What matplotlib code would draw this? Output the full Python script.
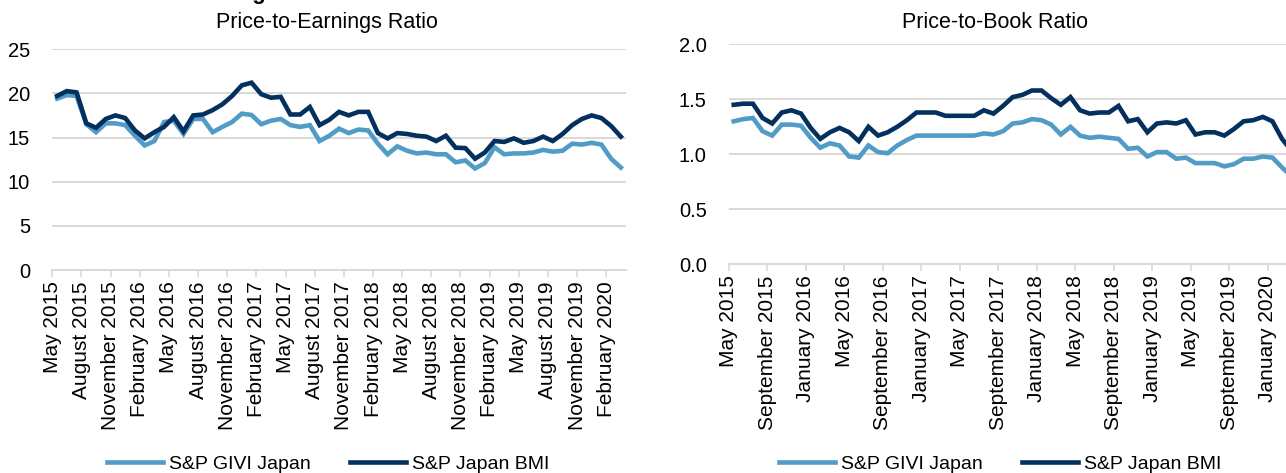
import matplotlib
matplotlib.use("Agg")
import matplotlib.pyplot as plt

plt.rcParams["font.family"] = ["Liberation Sans", "DejaVu Sans"]

NAVY = "#04305e"
LIGHT = "#519cc6"
GRID = "#d9d9d9"

# monthly, May 2015 .. March 2020
months = ["January", "February", "March", "April", "May", "June", "July",
          "August", "September", "October", "November", "December"]
dates = [f"{months[(4 + i) % 12]} {2015 + (4 + i) // 12}" for i in range(59)]

pe_givi = [19.4, 19.8, 19.7, 16.5, 15.6, 16.6, 16.6, 16.4, 15.2, 14.1,
           14.6, 16.75, 16.9, 15.4, 17.1, 17.1, 15.6, 16.2, 16.75, 17.7,
           17.55, 16.5, 16.9, 17.1, 16.4, 16.2, 16.4, 14.6, 15.2, 16.0,
           15.5, 15.9, 15.8, 14.3, 13.1, 14.0, 13.5, 13.2, 13.3, 13.1,
           13.1, 12.2, 12.4, 11.5, 12.1, 13.9, 13.1, 13.2, 13.2, 13.3,
           13.6, 13.4, 13.5, 14.3, 14.2, 14.4, 14.2, 12.6, 11.6]
pe_bmi = [19.7, 20.25, 20.1, 16.6, 16.1, 17.1, 17.5, 17.2, 15.8, 14.9,
          15.6, 16.2, 17.3, 15.7, 17.5, 17.6, 18.1, 18.75, 19.7, 20.9,
          21.2, 19.9, 19.5, 19.6, 17.6, 17.6, 18.45, 16.4, 17.0, 17.9,
          17.5, 17.9, 17.9, 15.5, 14.9, 15.5, 15.4, 15.2, 15.1, 14.6,
          15.2, 13.85, 13.8, 12.6, 13.3, 14.6, 14.5, 14.9, 14.4, 14.6,
          15.1, 14.6, 15.4, 16.4, 17.1, 17.5, 17.2, 16.3, 15.1]

pb_givi = [1.30, 1.32, 1.33, 1.21, 1.17, 1.27, 1.27, 1.26, 1.15, 1.06,
           1.10, 1.08, 0.98, 0.97, 1.08, 1.02, 1.01, 1.08, 1.13, 1.17,
           1.17, 1.17, 1.17, 1.17, 1.17, 1.17, 1.19, 1.18, 1.21, 1.28,
           1.29, 1.32, 1.31, 1.27, 1.18, 1.25, 1.17, 1.15, 1.16, 1.15,
           1.14, 1.05, 1.06, 0.98, 1.02, 1.02, 0.96, 0.97, 0.92, 0.92,
           0.92, 0.89, 0.91, 0.96, 0.96, 0.98, 0.97, 0.88, 0.80]
pb_bmi = [1.45, 1.46, 1.46, 1.33, 1.28, 1.38, 1.40, 1.37, 1.24, 1.14,
          1.20, 1.24, 1.20, 1.12, 1.25, 1.17, 1.20, 1.25, 1.31, 1.38,
          1.38, 1.38, 1.35, 1.35, 1.35, 1.35, 1.40, 1.37, 1.44, 1.52,
          1.54, 1.58, 1.58, 1.51, 1.45, 1.52, 1.40, 1.37, 1.38, 1.38,
          1.44, 1.30, 1.32, 1.20, 1.28, 1.29, 1.28, 1.31, 1.18, 1.20,
          1.20, 1.17, 1.23, 1.30, 1.31, 1.34, 1.30, 1.14, 1.03]

series_names = ["S&P GIVI Japan", "S&P Japan BMI"]

W, H = 1286, 473


def px_rect(x0, y_top, x1, y_bottom):
    return [x0 / W, 1 - y_bottom / H, (x1 - x0) / W, (y_bottom - y_top) / H]


def draw_panel(ax, givi, bmi, step, yticks, fmt):
    x = list(range(len(dates)))
    ax.plot(x, givi, color=LIGHT, lw=3.3, solid_joinstyle="miter",
            label=series_names[0], zorder=3)
    ax.plot(x, bmi, color=NAVY, lw=3.3, solid_joinstyle="miter",
            label=series_names[1], zorder=4)

    ax.set_xlim(-0.5, len(dates) - 0.5)
    ax.set_ylim(yticks[0], yticks[-1])
    ax.set_yticks(yticks)
    ax.set_yticklabels([fmt.format(v) for v in yticks])

    pos = [i - 0.5 for i in range(0, len(dates), step)]
    ax.set_xticks(pos)
    ax.set_xticklabels([dates[i] for i in range(0, len(dates), step)],
                       rotation=90, va="top", ha="center")

    ax.grid(axis="y", color=GRID, lw=1.4, zorder=0)
    for s in ["top", "right", "left"]:
        ax.spines[s].set_visible(False)
    ax.spines["bottom"].set_color(GRID)
    ax.spines["bottom"].set_linewidth(1.4)
    ax.tick_params(axis="x", length=5, width=1.2, color=GRID, pad=3,
                   labelsize=15, labelcolor="black")
    ax.tick_params(axis="y", length=0, pad=16, labelsize=14.5,
                   labelcolor="black")


fig = plt.figure(figsize=(W / 100, H / 100), dpi=100)

ax1 = fig.add_axes(px_rect(52.3, 49.1, 625.7, 270.1))
draw_panel(ax1, pe_givi, pe_bmi, 3, [0, 5, 10, 15, 20, 25], "{:g}")

# right panel runs past the edge of the picture, as in the source
ax2 = fig.add_axes(px_rect(728.9, 44.3, 1296.5, 264.3))
draw_panel(ax2, pb_givi, pb_bmi, 4, [0.0, 0.5, 1.0, 1.5, 2.0], "{:.1f}")

fig.text(327 / W, 1 - 28 / H, "Price-to-Earnings Ratio", ha="center",
         va="baseline", fontsize=15.5)
fig.text(995 / W, 1 - 28 / H, "Price-to-Book Ratio", ha="center",
         va="baseline", fontsize=15.5)

# cut-off heading above the left chart
fig.text(266 / W, 1 + 1.5 / H, "Trailing", ha="right", va="baseline",
         fontsize=16, fontweight="bold")

for ax, cx in [(ax1, 328), (ax2, 1000)]:
    handles, labels = ax.get_legend_handles_labels()
    fig.legend(handles, labels, loc="center", ncol=2,
               bbox_to_anchor=(cx / W, 1 - 464 / H), frameon=False,
               fontsize=14, handlelength=2.9, handletextpad=0.3,
               columnspacing=2.0, borderaxespad=0, borderpad=0)

fig.savefig("out.png", dpi=100)
